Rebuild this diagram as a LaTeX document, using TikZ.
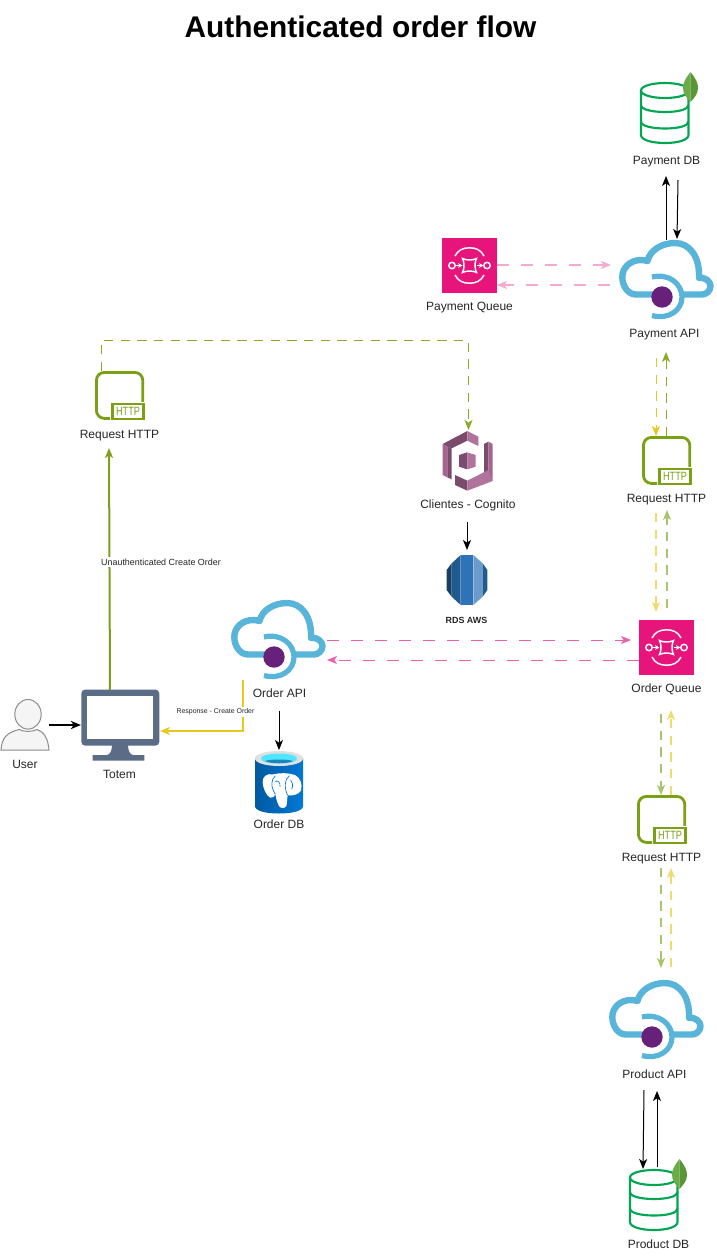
\documentclass[tikz,border=0pt]{standalone}
\usepackage{fontspec}
\setmainfont{Liberation Sans}
\usetikzlibrary{arrows.meta}
\definecolor{cloudblue}{HTML}{59B4D9}
\definecolor{apipurple}{HTML}{68217A}
\definecolor{sqspink}{HTML}{E7157B}
\definecolor{httpgreen}{HTML}{7AA116}
\definecolor{dbgreen}{HTML}{00A651}
\definecolor{leafa}{HTML}{6CAC48}
\definecolor{leafb}{HTML}{599636}
\definecolor{monitorc}{HTML}{5A6C86}
\definecolor{flowgreen}{HTML}{7D9E1E}
\definecolor{brightgreen}{HTML}{8BAA2A}
\definecolor{flowyellow}{HTML}{E8C81E}
\definecolor{softgreen}{HTML}{A9C46C}
\definecolor{softyellow}{HTML}{F0DC6E}
\definecolor{flowpink}{HTML}{EE5FAE}
\definecolor{softpink}{HTML}{F9A8D0}
\definecolor{cogdark}{HTML}{7A4B6C}
\definecolor{cogmid}{HTML}{A4668F}
\definecolor{coglight}{HTML}{B0739B}
\definecolor{rdsa}{HTML}{1A3F63}
\definecolor{rdsb}{HTML}{205B8F}
\definecolor{rdsc}{HTML}{2E73B8}
\definecolor{rdsd}{HTML}{6A9BCB}
\definecolor{pgdark}{HTML}{005BA1}
\definecolor{pgmid}{HTML}{0078D4}
\definecolor{pgcyan}{HTML}{50E6FF}
\tikzset{
  lbl/.style={font=\fontsize{9}{11}\selectfont,inner sep=0pt,text=black!85},
  smalllbl/.style={font=\fontsize{6.7}{8}\selectfont,inner sep=1pt,fill=white,text=black!85},
  tinylbl/.style={font=\fontsize{5.2}{7}\selectfont,inner sep=1pt,fill=white,text=black!85},
  tip/.style={-{Stealth[length=7.5pt,width=6pt,inset=2pt]}},
  blackflow/.style={tip,draw=black,line width=.75pt},
  thickblack/.style={tip,draw=black,line width=1.5pt},
  solidgreen/.style={tip,draw=flowgreen,line width=1.5pt},
  solidyellow/.style={tip,draw=flowyellow,line width=1.5pt},
  dashg/.style={tip,draw=brightgreen,line width=.75pt,dash pattern=on 7pt off 5.5pt},
  dashy/.style={tip,draw=flowyellow,line width=.75pt,dash pattern=on 7pt off 5.5pt},
  dashsg/.style={tip,draw=softgreen,line width=1.1pt,dash pattern=on 7pt off 5.5pt},
  dashsy/.style={tip,draw=softyellow,line width=1.1pt,dash pattern=on 7pt off 5.5pt},
  dashp/.style={tip,draw=flowpink,line width=.75pt,dash pattern=on 9pt off 9pt},
  dashsp/.style={tip,draw=softpink,line width=1pt,dash pattern=on 9pt off 9pt},
}
% cloud API icon, top-left corner at #1,#2
\newcommand{\apicloud}[3]{%
  \begin{scope}[shift={(#1,#2)}]
    \draw[cloudblue,line width=4.8pt,line cap=butt,line join=round]
      (36,54.5) -- (17,54.5) .. controls (9,54.5) and (3.3,46) .. (3.3,37)
      .. controls (3.3,27) and (12,20) .. (22,20) .. controls (24,20) and (26,20.3) .. (28.5,21)
      .. controls (31,10) and (43,3) .. (56,3)
      .. controls (70,3) and (81,16) .. (80,38)
      .. controls (87,37) and (91.5,42) .. (91.5,46)
      .. controls (91.5,51) and (87,54.5) .. (83,54.5) -- (62,54.5);
    \draw[cloudblue,line width=3.9pt] (33,37) .. controls (50,33) and (63,44) .. (63,57)
      .. controls (63,70) and (50,80) .. (33,75.5);
    \fill[apipurple] (43,57) circle[radius=10.7];
    \node[inner sep=0pt] (#3) at (47,40) {};
  \end{scope}}
% SQS icon
\newcommand{\sqsicon}[3]{%
  \begin{scope}[shift={(#1,#2)}]
    \fill[sqspink] (0,0) rectangle (55,55);
    \draw[white,line width=1.1pt] (13,18) .. controls (16,12) and (21,9.8) .. (27.5,9.8) .. controls (34,9.8) and (39,12) .. (42,18);
    \draw[white,line width=1.1pt] (13,37) .. controls (16,43) and (21,45.2) .. (27.5,45.2) .. controls (34,45.2) and (39,43) .. (42,37);
    \draw[white,line width=1.1pt] (10,27.5) circle[radius=3.2] (45,27.5) circle[radius=3.2];
    \draw[white,line width=1.1pt] (20.5,20.5) .. controls (24,22.5) and (31,22.5) .. (34.5,20.5) .. controls (32.5,24) and (32.5,31) .. (34.5,34.5)
      .. controls (31,32.5) and (24,32.5) .. (20.5,34.5) .. controls (22.5,31) and (22.5,24) .. (20.5,20.5) -- cycle;
    \draw[white,line width=1.1pt,-{Stealth[length=3.5pt,width=3.5pt]}] (13.5,27.5) -- (20.5,27.5);
    \draw[white,line width=1.1pt,-{Stealth[length=3.5pt,width=3.5pt]}] (35,27.5) -- (41.5,27.5);
    \node[inner sep=0pt] (#3) at (27.5,27.5) {};
  \end{scope}}
% HTTP request icon
\newcommand{\httpicon}[3]{%
  \begin{scope}[shift={(#1,#2)}]
    \draw[httpgreen,line width=2.1pt,rounded corners=6pt] (47.8,32) -- (47.8,1.4) -- (1.4,1.4) -- (1.4,47.4) -- (15,47.4);
    \fill[white] (15.5,31) rectangle (50,49.5);
    \draw[httpgreen,line width=1.8pt] (17.5,33) rectangle (48.5,48);
    \node[inner sep=0pt,text=httpgreen,font=\fontsize{9}{10}\selectfont] (#3) at (33,40.5) {\scalebox{.76}[1]{HTTP}};
  \end{scope}}
% Mongo cylinder
\newcommand{\mongodb}[3]{%
  \begin{scope}[shift={(#1,#2)}]
    \draw[dbgreen,line width=1.6pt] (0,7.5) -- (0,52) .. controls (0,57) and (11,60) .. (24,60) .. controls (37,60) and (47.5,57) .. (47.5,52) -- (47.5,7.5);
    \draw[dbgreen,line width=1.6pt] (24,0) .. controls (37,0) and (47.5,3) .. (47.5,7.5) .. controls (47.5,12) and (37,15) .. (24,15)
      .. controls (11,15) and (0,12) .. (0,7.5) .. controls (0,3) and (11,0) .. (24,0) -- cycle;
    \draw[dbgreen,line width=1.6pt] (0,22) .. controls (0,26.5) and (11,29) .. (24,29) .. controls (37,29) and (47.5,26.5) .. (47.5,22);
    \draw[dbgreen,line width=1.6pt] (0,38.5) .. controls (0,43) and (11,45.5) .. (24,45.5) .. controls (37,45.5) and (47.5,43) .. (47.5,38.5);
    \fill[leafa] (49.5,-11) .. controls (44,-4) and (42,0) .. (42,5) .. controls (42,11) and (46,15) .. (49.5,19) -- cycle;
    \fill[leafb] (49.5,-11) .. controls (55,-4) and (57,0) .. (57,5) .. controls (57,11) and (53,15) .. (49.5,19) -- cycle;
    \node[inner sep=0pt] (#3) at (24,30) {};
  \end{scope}}
\begin{document}
\begin{tikzpicture}[x=.75pt,y=-.75pt]
\useasboundingbox (0,0) rectangle (717,1260);
\fill[white] (0,0) rectangle (717,1260);

\node[font=\bfseries\fontsize{22.4}{26}\selectfont,inner sep=0pt,text=black] (title) at (360.5,27) {Authenticated order flow};

% icons
\mongodb{641}{83}{paydb}
\node[lbl] (paydblbl) at (666.5,161.5) {Payment DB};
\sqsicon{442}{238}{payq}
\node[lbl] (payqlbl) at (469.5,308) {Payment Queue};
\apicloud{619}{240}{payapi}
\node[lbl] (payapilbl) at (664.5,335) {Payment API};
\httpicon{95}{371}{reqa}
\node[lbl] (reqalbl) at (119.5,435.5) {Request HTTP};
\httpicon{642}{436}{reqb}
\node[lbl] (reqblbl) at (666.5,500) {Request HTTP};
\httpicon{637}{795}{reqc}
\node[lbl] (reqclbl) at (661.5,858.5) {Request HTTP};
\apicloud{231}{600}{ordapi}
\node[lbl] (ordapilbl) at (279.5,693.5) {Order API};
\sqsicon{639}{620}{ordq}
\node[lbl] (ordqlbl) at (666.5,689.5) {Order Queue};
\apicloud{609}{980}{prodapi}
\node[lbl] (prodapilbl) at (654.5,1074.5) {Product API};
\mongodb{630}{1170}{proddb}
\node[lbl] (proddblbl) at (658.5,1244.5) {Product DB};

% Cognito
\begin{scope}[shift={(410,420)},x=.25pt,y=-.25pt]
  \fill[cogdark] (98,72) -- (172,33) -- (172,62) -- (125,85) -- (112,80) -- cycle;
  \fill[cogmid] (98,72) -- (112,80) -- (112,172) -- (98,165) -- cycle;
  \fill[cogdark] (112,80) -- (125,85) -- (125,178) -- (112,172) -- cycle;
  \fill[coglight] (172,33) -- (205,50) -- (205,78) -- (172,62) -- cycle;
  \fill[cogdark] (222,72) -- (235,65) -- (235,165) -- (222,172) -- cycle;
  \fill[cogmid] (235,65) -- (248,72) -- (248,183) -- (235,165) -- cycle;
  \fill[cogdark] (135,165) -- (172,182) -- (172,212) -- (135,195) -- cycle;
  \fill[coglight] (172,182) -- (235,150) -- (248,183) -- (172,212) -- cycle;
  \fill[cogdark] (147,105) -- (172,97) -- (172,148) -- (147,140) -- cycle;
  \fill[coglight] (172,97) -- (197,105) -- (197,140) -- (172,148) -- cycle;
\end{scope}
\node[lbl] (cog) at (468,505) {Clientes - Cognito};

% RDS
\begin{scope}[shift={(410,420)},x=.25pt,y=-.25pt]
  \fill[rdsa] (110,450) -- (125,430) -- (125,530) -- (110,510) -- cycle;
  \fill[rdsb] (125,430) -- (152,405) -- (152,555) -- (125,530) -- cycle;
  \fill[rdsc] (152,405) -- (190,405) -- (190,555) -- (152,555) -- cycle;
  \fill[rdsd] (190,405) -- (218,430) -- (218,530) -- (190,555) -- cycle;
  \fill[rdsb] (218,430) -- (232,450) -- (232,510) -- (218,530) -- cycle;
\end{scope}
\node[inner sep=0pt,font=\bfseries\fontsize{6.7}{8}\selectfont,text=black!85] (rdslbl) at (466.5,620) {RDS AWS};

% Totem
\begin{scope}
  \fill[monitorc,rounded corners=3pt] (81.3,689.5) rectangle (159.3,745.7);
  \fill[white] (87.3,696) rectangle (152.7,739.3);
  \fill[monitorc] (112,745) -- (128,745) .. controls (128,751) and (130,754.5) .. (133,755) -- (144.3,755) -- (144.3,760.7) -- (92.7,760.7) -- (92.7,755) -- (107,755) .. controls (110,754.5) and (112,751) .. (112,745) -- cycle;
\end{scope}
\node[lbl] (totemlbl) at (119.5,774.5) {Totem};

% User
\draw[black!45,fill=black!4,line width=.75pt] (1,750) .. controls (2,738) and (6,733) .. (19,729.5) .. controls (23,732) and (33,732) .. (37,729.5) .. controls (44,732) and (48,738) .. (49,750) -- cycle;
\draw[black!45,fill=black!4,line width=.75pt] (28,714.3) ellipse[x radius=13.2,y radius=14.8];
\node[lbl] (userlbl) at (25,764.5) {User};

% Postgres
\begin{scope}
  \shade[left color=pgdark,right color=pgmid] (255,758) -- (255,806) .. controls (255,811) and (266,813.5) .. (279,813.5) .. controls (292,813.5) and (303,811) .. (303,806) -- (303,758) -- cycle;
  \fill[black!12] (279,751) .. controls (292,751) and (303,754) .. (303,758.5) .. controls (303,763) and (292,766) .. (279,766) .. controls (266,766) and (255,763) .. (255,758.5) .. controls (255,754) and (266,751) .. (279,751) -- cycle;
  \fill[pgcyan] (279,753.5) .. controls (289,753.5) and (297,755.5) .. (297,758.5) .. controls (297,761.5) and (289,763.5) .. (279,763.5) .. controls (269,763.5) and (261,761.5) .. (261,758.5) .. controls (261,755.5) and (269,753.5) .. (279,753.5) -- cycle;
  \fill[pgdark!70!pgcyan] (265,761) .. controls (271,759) and (287,759) .. (293,761) .. controls (288,764) and (270,764) .. (265,761) -- cycle;
  \begin{scope}[shift={(250,745)},x=.25pt,y=-.25pt]
    \fill[white] (70,88) .. controls (50,84) and (37,95) .. (38,112) .. controls (39,130) and (48,150) .. (60,158)
      .. controls (68,160) and (74,155) .. (76,148) .. controls (79,165) and (84,180) .. (90,187)
      .. controls (96,191) and (106,190) .. (109,184) .. controls (112,172) and (111,160) .. (113,151)
      .. controls (125,153) and (145,150) .. (153,137) .. controls (158,120) and (152,98) .. (135,90)
      .. controls (115,83) and (90,83) .. (70,88) -- cycle;
    \draw[pgmid,line width=.5pt] (76,92) .. controls (62,105) and (62,125) .. (76,148);
    \draw[pgmid,line width=.5pt] (118,92) .. controls (104,102) and (102,130) .. (113,151);
    \draw[pgmid,line width=.5pt] (76,110) .. controls (82,104) and (92,112) .. (90,125);
    \draw[pgmid,line width=.5pt] (122,105) .. controls (128,112) and (130,122) .. (125,132);
  \end{scope}
\end{scope}
\node[lbl] (orddblbl) at (279,824.5) {Order DB};

% connector end points
\coordinate (userout) at (49,725);
\coordinate (totemin) at (81,725);
\coordinate (totemtop) at (110,690);
\coordinate (reqabottom) at (109,448);
\coordinate (ordout) at (243,680);
\coordinate (ordbend) at (243,731);
\coordinate (totemright) at (160,731);
\coordinate (orddown) at (279,711);
\coordinate (orddbtop) at (279,750);
\coordinate (reqatop) at (101,371);
\coordinate (ca) at (101,340.5);
\coordinate (cb) at (468.5,340.5);
\coordinate (cogtop) at (468.5,430);
\coordinate (cogout) at (467,522);
\coordinate (rdstop) at (467,550);
\coordinate (oa) at (327,640);
\coordinate (ob) at (631,640);
\coordinate (oc) at (639,660);
\coordinate (od) at (327,660);
\coordinate (pa) at (497,265);
\coordinate (pb) at (611,265);
\coordinate (pc) at (610,285);
\coordinate (pd) at (497,285);
\coordinate (da) at (666,240);
\coordinate (db) at (666,176);
\coordinate (dc) at (678,180);
\coordinate (dd) at (677,239);
\coordinate (ra) at (666,436);
\coordinate (rb) at (666,352);
\coordinate (rc) at (656,358);
\coordinate (rd) at (656,436);
\coordinate (sa) at (656,513);
\coordinate (sb) at (656,612);
\coordinate (sc) at (667,608);
\coordinate (sd) at (667,510);
\coordinate (ta) at (661,714);
\coordinate (tb) at (661,795);
\coordinate (tc) at (671,795);
\coordinate (td) at (671,710);
\coordinate (ua) at (661,868);
\coordinate (ub) at (661,968);
\coordinate (uc) at (671,967);
\coordinate (ud) at (671,868);
\coordinate (va) at (644,1090);
\coordinate (vb) at (643,1169);
\coordinate (vc) at (657,1167);
\coordinate (vd) at (657,1091);

% connectors
\draw[thickblack] (userout) -- (totemin);
\draw[solidgreen] (totemtop) -- (reqabottom);
\node[smalllbl] (unauth) at (161,562) {Unauthenticated Create Order};
\draw[solidyellow] (ordout) -- (ordbend) -- (totemright);
\node[tinylbl] (resp) at (215.5,712) {Response - Create Order};
\draw[blackflow] (orddown) -- (orddbtop);
\draw[dashg] (reqatop) -- (ca) -- (cb) -- (cogtop);
\draw[blackflow] (cogout) -- (rdstop);
\draw[dashp] (oa) -- (ob);
\draw[dashp] (oc) -- (od);
\draw[dashsp] (pa) -- (pb);
\draw[dashsp] (pc) -- (pd);
\draw[blackflow] (da) -- (db);
\draw[blackflow] (dc) -- (dd);
\draw[dashg] (ra) -- (rb);
\draw[dashy] (rc) -- (rd);
\draw[dashsy] (sa) -- (sb);
\draw[dashsg] (sc) -- (sd);
\draw[dashsg] (ta) -- (tb);
\draw[dashsy] (tc) -- (td);
\draw[dashsg] (ua) -- (ub);
\draw[dashsy] (uc) -- (ud);
\draw[blackflow] (va) -- (vb);
\draw[blackflow] (vc) -- (vd);
\end{tikzpicture}
\end{document}
